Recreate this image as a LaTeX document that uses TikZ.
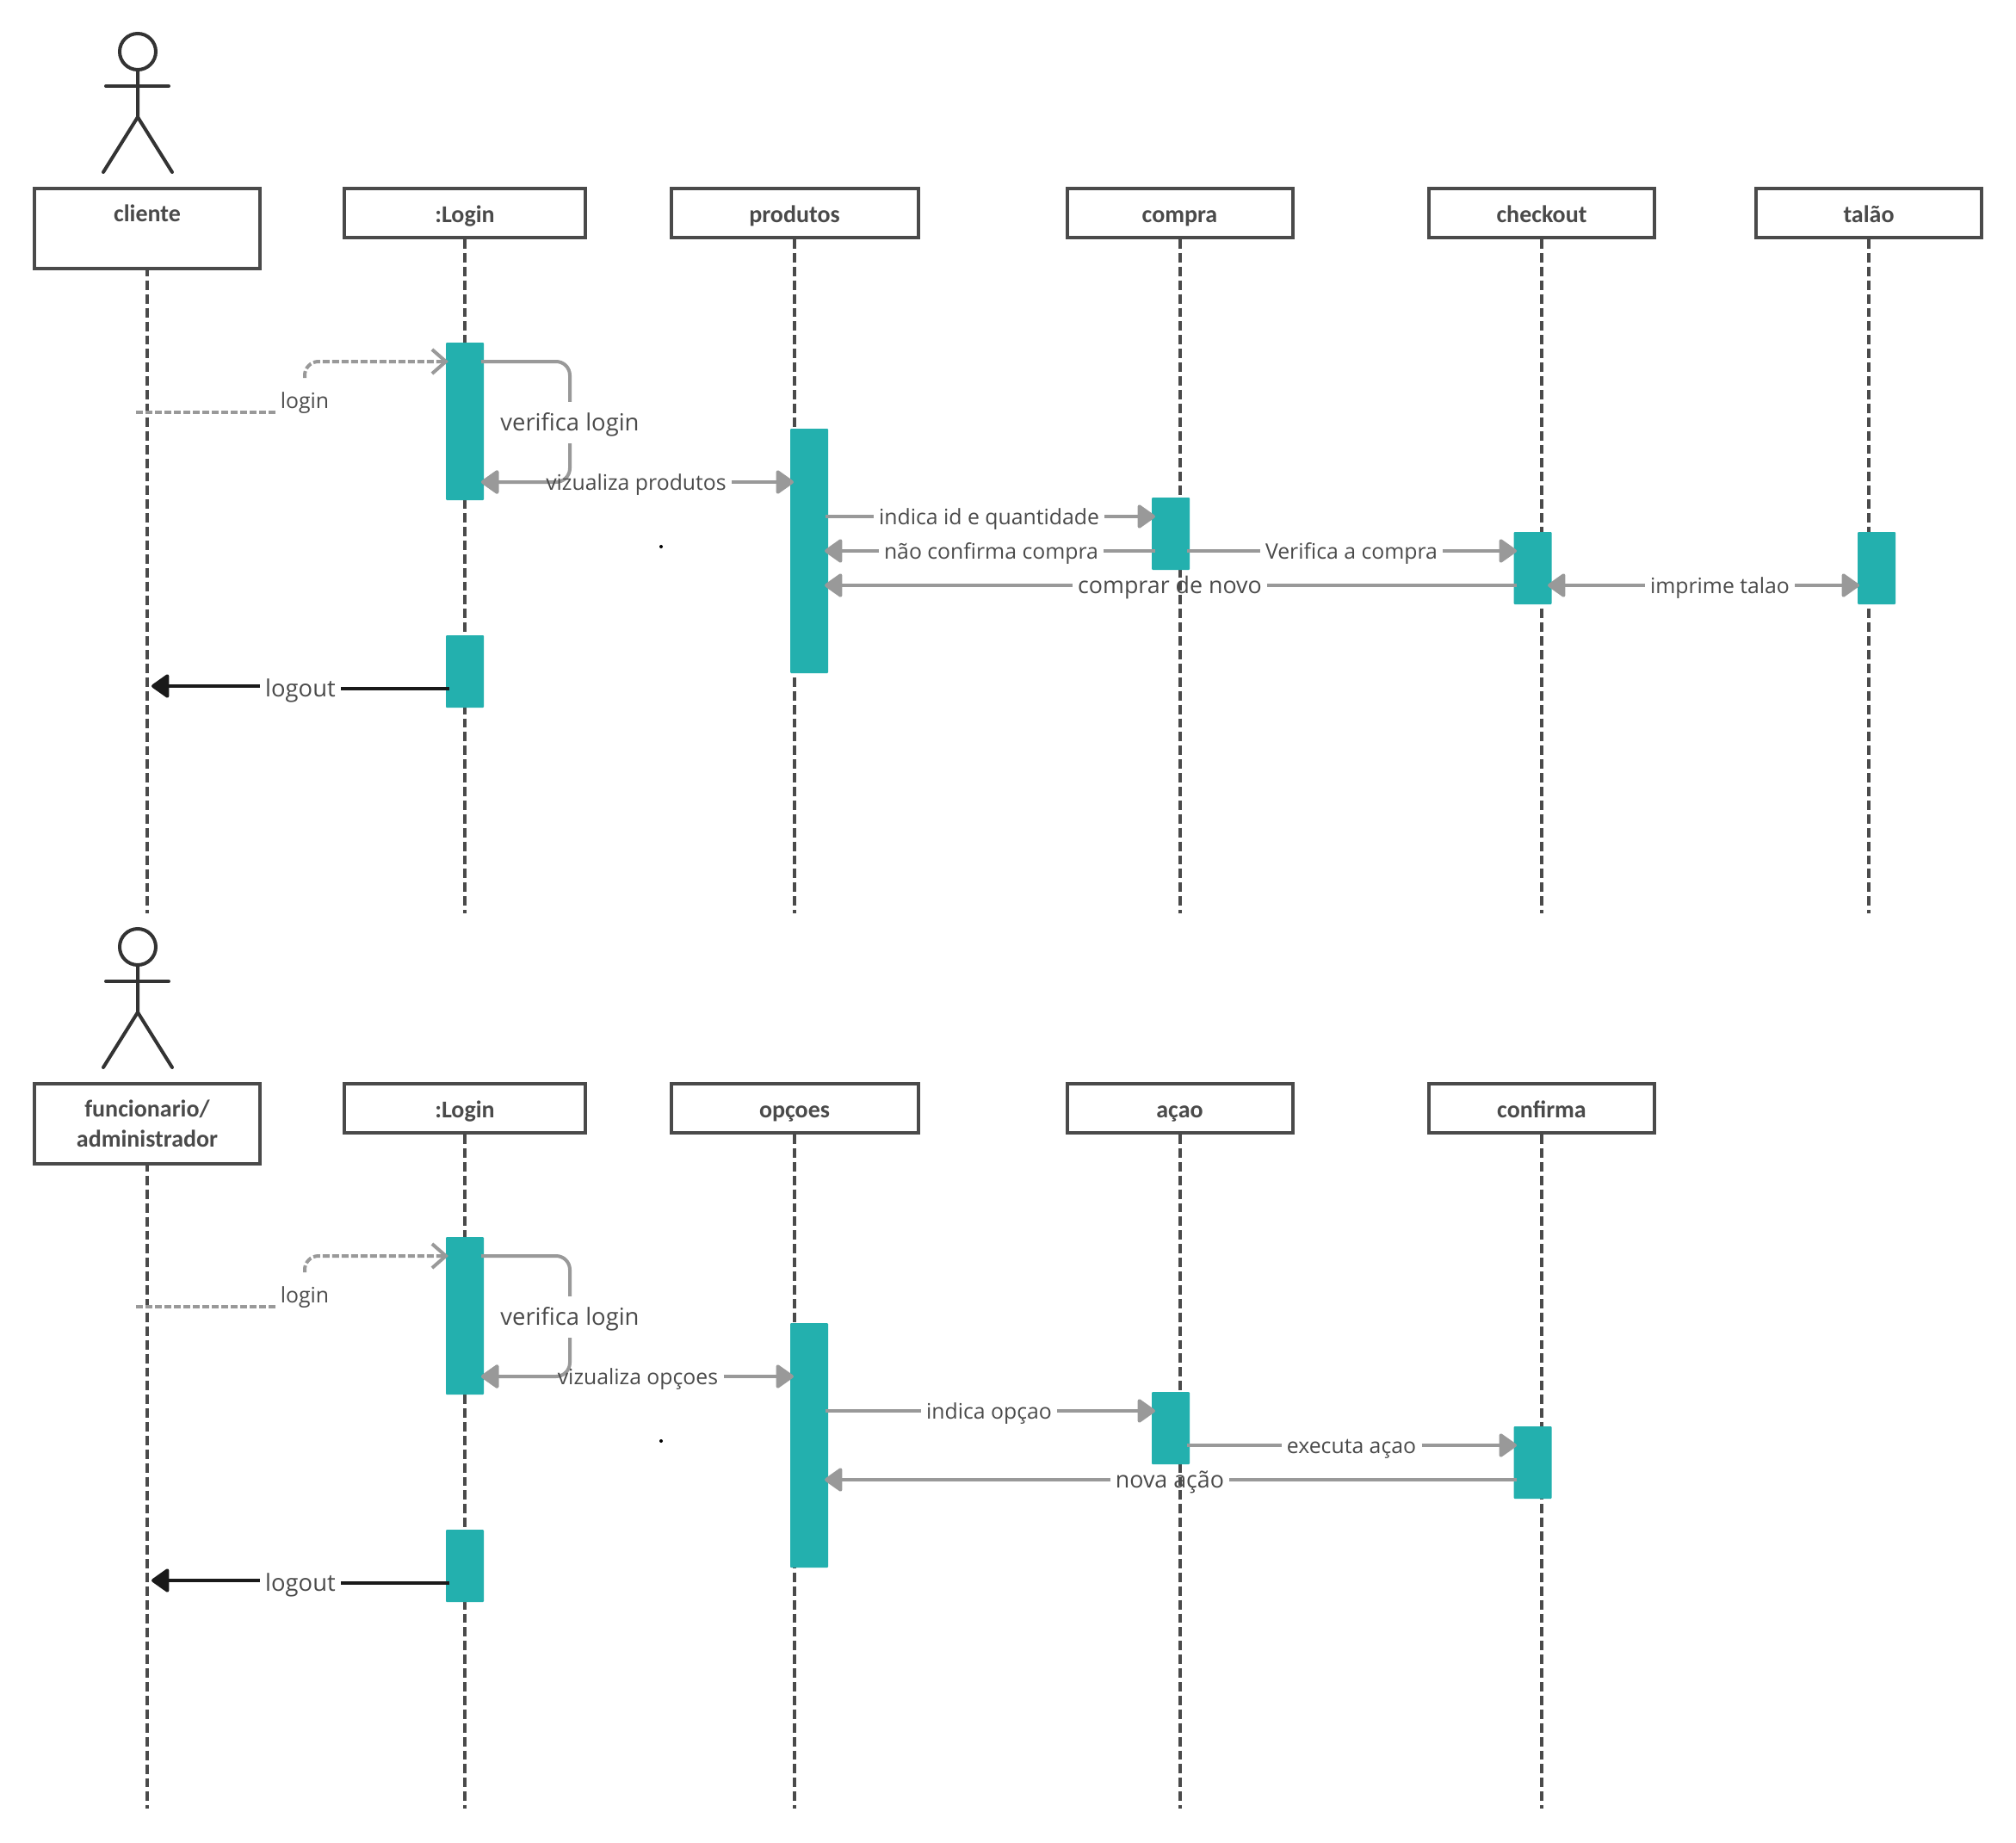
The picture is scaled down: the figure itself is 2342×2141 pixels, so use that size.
\documentclass[tikz,border=0pt]{standalone}
\usepackage{fontspec}
\setmainfont{Carlito}
\newfontfamily\labelfont{Open Sans}
\usetikzlibrary{positioning, calc, arrows.meta}
\definecolor{Dark}{HTML}{4A4A4A}
\definecolor{Stick}{HTML}{333333}
\definecolor{Teal}{HTML}{23B0AE}
\definecolor{Msg}{HTML}{999999}
\definecolor{Black2}{HTML}{1A1A1A}
\tikzset{
    objbox/.style={rectangle, draw=Dark, line width=2pt, fill=white, text=Dark, align=center, font=\bfseries\fontsize{14}{17.5}\selectfont, minimum width=131pt, inner sep=0pt},
    oneline/.style={minimum height=28.5pt, text height=12pt, text depth=1.2pt},
    bar/.style={rectangle, rounded corners=0.5pt, fill=Teal, minimum width=22pt, inner sep=0pt},
    lifeline/.style={draw=Dark, line width=2pt, dash pattern=on 5.45pt off 2.5pt},
    msg/.style={draw=Msg, line width=2pt},
    tip/.style={-{Triangle[length=11pt,width=15pt,round]}},
    lbl/.style={text=Dark, font=\labelfont\fontsize{12.4}{14}\selectfont, text height=10pt, text depth=0.8pt, inner xsep=3pt, inner ysep=0pt},
    lblmid/.style={lbl, font=\labelfont\fontsize{13.4}{16}\selectfont},
    lblbig/.style={lbl, font=\labelfont\fontsize{13.7}{16}\selectfont},
    stick/.style={draw=Stick, line width=2pt, line cap=round},
    head/.style={circle, draw=Stick, line width=2pt, minimum size=21pt, inner sep=0pt},
    speck/.style={circle, fill=black, minimum size=2pt, inner sep=0pt},
}
\begin{document}
\begin{tikzpicture}[x=0.5pt, y=-0.5pt]
\useasboundingbox (0,0) rectangle (2342,2141);
% both diagrams share actor, login box and logout
\foreach \d/\o in {a/0, b/1040} {
    \node[head] (head\d) at (160,{60+\o}) {};
    \coordinate (hip\d) at (160,{136+\o});
    \coordinate (armL\d) at (123,{100+\o});
    \coordinate (armR\d) at (196,{100+\o});
    \coordinate (legL\d) at (120,{200+\o});
    \coordinate (legR\d) at (200,{200+\o});
    \draw[stick] (head\d.south) -- (hip\d) -- (legL\d);
    \draw[stick] (hip\d) -- (legR\d);
    \draw[stick] (armL\d) -- (armR\d);
    \node[objbox, oneline, minimum width=140pt] (login\d) at (540,{247.5+\o}) {:Login};
}
\node[objbox, minimum height=46.5pt] (cliente) at (171,265.5) {cliente\\\phantom{x}};
\node[objbox, minimum height=46.5pt] (func) at (171,1305.5) {funcionario/\\administrador};
\foreach \n/\x/\w/\t in {produtos/923/143.5/produtos, compra/1370.5/131/compra, checkout/1791/131/checkout, talao/2171/131/talão} {
    \node[objbox, oneline, minimum width=\w pt] (\n) at (\x,247.5) {\t};
}
\foreach \n/\x/\w/\t in {opcoes/923/143.5/opçoes, acao/1370.5/131/açao, confirma/1791/131/confirma} {
    \node[objbox, oneline, minimum width=\w pt] (\n) at (\x,1287.5) {\t};
}
% lifelines
\foreach \n/\e/\p in {cliente/1061/2pt, logina/1061/0pt, produtos/1061/0pt, compra/1061/0pt, checkout/1061/0pt, talao/1061/0pt, func/2101/2pt, loginb/2101/0pt, opcoes/2101/0pt, acao/2101/0pt, confirma/2101/0pt} {
    \coordinate (\n end) at (\n.south |- 0,\e);
    \draw[lifeline, dash phase=\p] (\n.south) -- (\n end);
}
% activation bars
\foreach \d/\o in {a/0, b/1039} {
    \node[bar, minimum height=91.5pt] (barLogin\d) at (540,{489.5+\o}) {};
    \node[bar, minimum height=42pt] (barOut\d) at (540,{780+\o}) {};
    \node[bar, minimum height=142pt] (barMid\d) at (940,{640+\o}) {};
    \node[bar, minimum height=42pt] (barThree\d) at (1360,{620+\o}) {};
    \node[bar, minimum height=42pt] (barFour\d) at (1780.5,{660+\o}) {};
}
\node[bar, minimum height=42pt] (barTalao) at (2180,660) {};
% messages shared by both diagrams
\foreach \d/\o in {a/0, b/1039} {
    \coordinate (inA\d) at (158,{479+\o});
    \coordinate (inB\d) at (320,{479+\o});
    \coordinate (inC\d) at (354,{439+\o});
    \coordinate (inD\d) at (521,{420+\o});
    \node[lbl] (lblIn\d) at (354,{465+\o}) {login};
    \draw[msg, dash pattern=on 4pt off 1.5pt] (inA\d) -- (inB\d);
    \draw[msg, dash pattern=on 4pt off 1.5pt, rounded corners=8pt, -{Straight Barb[length=8pt,width=14pt]}] (inC\d) |- (inD\d);
    \coordinate (selfA\d) at (559,{420+\o});
    \coordinate (selfB\d) at (559,{560+\o});
    \node[lblbig, inner ysep=6.5pt] (lblSelf\d) at (662,{491+\o}) {verifica login};
    \draw[msg, rounded corners=8pt] (selfA\d) -| (lblSelf\d.north);
    \draw[msg, rounded corners=8pt, tip] (lblSelf\d.south) |- (selfB\d);
    \coordinate (outA\d) at (522,{800+\o});
    \coordinate (outB\d) at (176,{797+\o});
    \node[lblbig] (lblOut\d) at (349,{800+\o}) {logout};
    \draw[draw=Black2, line width=2pt] (outA\d) -- (lblOut\d.east);
    \draw[draw=Black2, line width=2pt, tip] (lblOut\d.west |- outB\d) -- (outB\d);
    \coordinate (viewA\d) at (559,{560+\o});
    \coordinate (viewB\d) at (922,{560+\o});
    \coordinate (pickA\d) at (959,{600+\o});
    \coordinate (pickB\d) at (1342,{600+\o});
    \coordinate (againB\d) at (958,{680+\o});
    \coordinate (againA\d) at (1762,{680+\o});
    \coordinate (nextA\d) at (1379,{640+\o});
    \coordinate (nextB\d) at (1762,{640+\o});
}
\node[lbl] (lblViewa) at (739,560) {vizualiza produtos};
\node[lbl] (lblViewb) at (741,1599) {vizualiza opçoes};
\node[lbl] (lblPicka) at (1149,600) {indica id e quantidade};
\node[lbl] (lblPickb) at (1149,1639) {indica opçao};
\node[lbl] (lblNexta) at (1570,640) {Verifica a compra};
\node[lbl] (lblNextb) at (1570,1679) {executa açao};
\node[lblmid] (lblAgaina) at (1359,680) {comprar de novo};
\node[lblmid] (lblAgainb) at (1359,1719) {nova ação};
\foreach \d in {a, b} {
    \draw[msg, tip] (lblView\d.west) -- (viewA\d);
    \draw[msg, tip] (lblView\d.east) -- (viewB\d);
    \draw[msg] (pickA\d) -- (lblPick\d.west);
    \draw[msg, tip] (lblPick\d.east) -- (pickB\d);
    \draw[msg] (nextA\d) -- (lblNext\d.west);
    \draw[msg, tip] (lblNext\d.east) -- (nextB\d);
    \draw[msg] (againA\d) -- (lblAgain\d.east);
    \draw[msg, tip] (lblAgain\d.west) -- (againB\d);
}
% only in the upper diagram
\coordinate (noA) at (1342,640);
\coordinate (noB) at (958,640);
\node[lbl] (lblNo) at (1151.5,640) {não confirma compra};
\draw[msg] (noA) -- (lblNo.east);
\draw[msg, tip] (lblNo.west) -- (noB);
\coordinate (printA) at (1798,680);
\coordinate (printB) at (2160,680);
\node[lbl] (lblPrint) at (1998,680) {imprime talao};
\draw[msg, tip] (lblPrint.west) -- (printA);
\draw[msg, tip] (lblPrint.east) -- (printB);
\node[speck] (dotA) at (768,635) {};
\node[speck] (dotB) at (768,1674) {};
\end{tikzpicture}
\end{document}
